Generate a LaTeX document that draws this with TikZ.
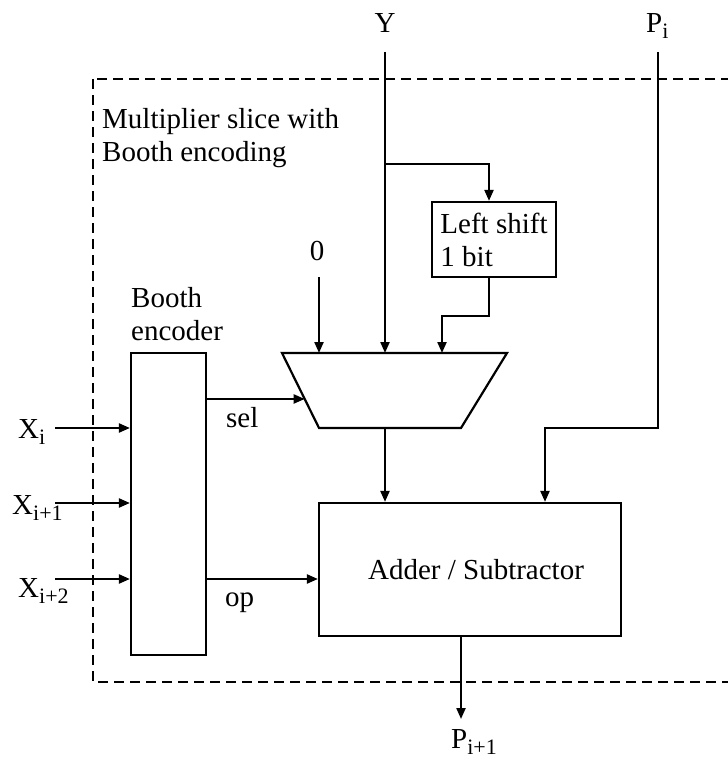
\documentclass[tikz,border=0pt]{standalone}
\usepackage{fontspec}
\setmainfont{Liberation Serif}
\usepackage{tikz}
\usetikzlibrary{arrows.meta,positioning,calc}
\newcommand{\lowsub}[1]{\raisebox{-6pt}{\fontsize{22}{22}\selectfont #1}}

\begin{document}
\begin{tikzpicture}[x=1pt,y=-1pt,font=\fontsize{29}{33}\selectfont,
    blk/.style={draw,line width=2.2pt,inner sep=0pt},
    wire/.style={line width=2.2pt},
    arr/.style={wire,-{Triangle[length=11pt,width=9pt]}},
    frame/.style={line width=1.2pt,dash pattern=on 10pt off 6pt},
    lbl/.style={inner sep=0pt,anchor=base west}]
  \useasboundingbox (0,0) rectangle (727,759);

  % slice boundary
  \draw[frame] (93,79) rectangle (745,682);
  \node[inner sep=0pt,anchor=north west,align=left] (title) at (102,108)
        {Multiplier slice with\\Booth encoding};

  % blocks
  \node[blk,minimum width=124pt,minimum height=75pt,align=left] (shift) at (494,239.5)
        {Left shift\\1 bit};
  \node[blk,minimum width=75pt,minimum height=302pt] (booth) at (168.5,504) {};
  \node[inner sep=0pt,anchor=north west,align=left] (boothlbl) at (131,287)
        {Booth\\encoder};
  \node[blk,minimum width=302pt,minimum height=133pt] (add) at (470,569.5)
        {\raisebox{-9pt}{\hspace{12pt}Adder / Subtractor}};

  % multiplexer
  \coordinate (m1) at (282,353);
  \coordinate (m2) at (507,353);
  \coordinate (m3) at (461,428);
  \coordinate (m4) at (319,428);
  \draw[wire,line join=miter] (m1) -- (m2) -- (m3) -- (m4) -- cycle;
  \coordinate (min0) at (319,353);
  \coordinate (minY) at (385,353);
  \coordinate (minS) at (442,353);
  \coordinate (mout) at (385,428);
  \coordinate (msel) at ($(m1)!0.613!(m4)$);

  % labels
  \node[inner sep=0pt,anchor=base] (ylbl) at (385,33) {Y};
  \node[lbl] (pilbl) at (646,33) {P\lowsub{i}};
  \node[inner sep=0pt,anchor=base] (zero) at (317,260) {0};
  \node[lbl] (xi) at (18,438) {X\lowsub{i}};
  \node[lbl] (xi1) at (12,514) {X\lowsub{i+1}};
  \node[lbl] (xi2) at (18,597) {X\lowsub{i+2}};
  \node[lbl] (sel) at (226,427) {sel};
  \node[lbl] (op) at (225,606) {op};
  \node[lbl] (polbl) at (451,748) {P\lowsub{i+1}};

  \coordinate (ytop) at (385,52);
  \coordinate (ybr) at (385,164);
  \coordinate (ptop) at (658,52);
  \coordinate (pturn) at (545,428);
  \coordinate (zin) at (319,277);
  \coordinate (opout) at (206,579);
  \coordinate (pout) at (461,719);

  % connections
  \draw[arr] (ytop) -- (minY);
  \draw[arr] (ybr) -| ([xshift=-5pt]shift.north);
  \draw[arr] ([xshift=-5pt]shift.south) -- ++(0,38) -| (minS);
  \draw[arr] (zin) -- (min0);
  \draw[arr] (ptop) |- (pturn) -- (pturn |- add.north);
  \draw[arr] (mout) -- (mout |- add.north);
  \draw[arr] (booth.east |- msel) -- (msel);
  \draw[arr] (opout) -- (add.west |- opout);
  \foreach \n/\y in {in0/428,in1/503,in2/579}{
    \coordinate (\n) at (55,\y);
    \draw[arr] (\n) -- (booth.west |- \n);
  }
  \draw[arr] (add.south -| pout) -- (pout);
\end{tikzpicture}
\end{document}
